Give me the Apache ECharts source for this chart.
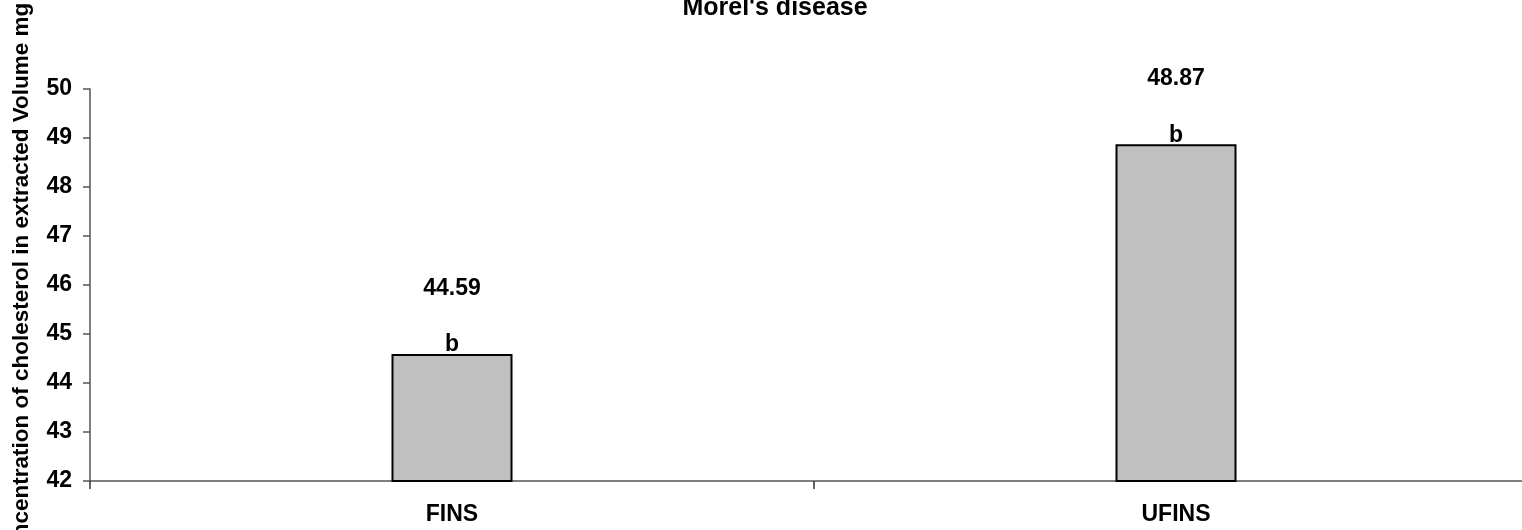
<!DOCTYPE html>
<html>
<head>
<meta charset="utf-8">
<script src="https://cdn.jsdelivr.net/npm/echarts@6/dist/echarts.min.js"></script>
<style>
html,body{margin:0;padding:0;background:#fff;}
#chart{width:1522px;height:530px;}
</style>
</head>
<body>
<div id="chart"></div>
<script>
var categories = ['FINS', 'UFINS'];
var values = [44.59, 48.87];
var letters = ['b', 'b'];
var yMin = 42, yMax = 50, yStep = 1;
var titleText = "Morel's disease";
var yName = 'Concentration of cholesterol in extracted Volume mg';

var FONT = '"Liberation Sans", Arial, Helvetica, sans-serif';
var chart = echarts.init(document.getElementById('chart'));
chart.setOption({
  animation: false,
  backgroundColor: '#ffffff',
  title: {
    text: titleText,
    left: 770,
    textAlign: 'center',
    top: -9,
    textStyle: {fontFamily: FONT, fontWeight: 'bold', fontSize: 25, color: '#000'}
  },
  grid: {left: 90, right: -16, top: 89, bottom: 49, containLabel: false, outerBoundsMode: 'none'},
  xAxis: {
    type: 'category',
    data: categories,
    axisLine: {lineStyle: {color: '#555', width: 1.5}},
    axisTick: {show: true, length: 8, lineStyle: {color: '#333', width: 1.5}},
    axisLabel: {margin: 22, fontFamily: FONT, fontWeight: 'bold', fontSize: 23, color: '#000'}
  },
  yAxis: {
    type: 'value',
    min: yMin, max: yMax, interval: yStep,
    name: yName,
    nameLocation: 'middle',
    nameGap: 57,
    nameTextStyle: {fontFamily: FONT, fontWeight: 'bold', fontSize: 22.5, color: '#000'},
    splitLine: {show: false},
    axisLine: {show: true, lineStyle: {color: '#555', width: 1.5}},
    axisTick: {show: true, length: 7, lineStyle: {color: '#555', width: 1.5}},
    axisLabel: {margin: 18, fontFamily: FONT, fontWeight: 'bold', fontSize: 23, color: '#000'}
  },
  series: [{
    type: 'bar',
    data: values.map(function (v, i) { return {value: v, letter: letters[i]}; }),
    barWidth: 121,
    itemStyle: {color: '#c0c0c0', borderColor: '#000', borderWidth: 2},
    label: {
      show: true,
      position: 'top',
      distance: -2,
      formatter: function (p) {
        return '{v|' + p.value.toFixed(2) + '}\n{b|' + letters[p.dataIndex] + '}';
      },
      rich: {
        v: {fontFamily: FONT, fontWeight: 'bold', fontSize: 23, color: '#000', lineHeight: 91},
        b: {fontFamily: FONT, fontWeight: 'bold', fontSize: 23, color: '#000', lineHeight: 22}
      }
    }
  }]
});
</script>
</body>
</html>
